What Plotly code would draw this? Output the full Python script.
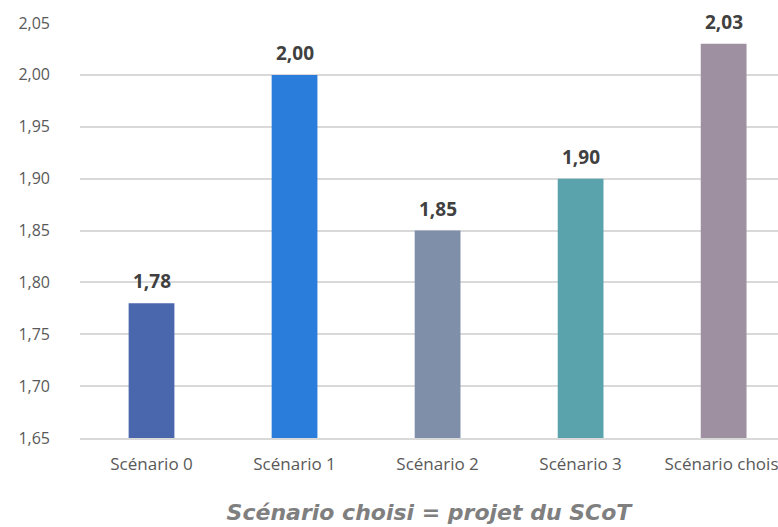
import plotly.graph_objects as go

# Data
categories = ["Scénario 0", "Scénario 1", "Scénario 2", "Scénario 3", "Scénario choisi"]
values = [1.78, 2.00, 1.85, 1.90, 2.03]
bar_colors = ["#4A66AC", "#2A7DDA", "#7F8FA9", "#5AA3AD", "#9E8FA1"]
y_ticks = [1.65, 1.70, 1.75, 1.80, 1.85, 1.90, 1.95, 2.00, 2.05]
x_title = "Scénario choisi = projet du SCoT"


def fr(v):
    return f"{v:.2f}".replace(".", ",")


fig = go.Figure(
    go.Bar(
        x=categories,
        y=[v - y_ticks[0] for v in values],
        base=y_ticks[0],
        marker=dict(color=bar_colors, line=dict(width=0)),
        hoverinfo="skip",
    )
)

# Value labels above each bar
for c, v in zip(categories, values):
    fig.add_annotation(
        x=c, y=v, text=f"<b>{fr(v)}</b>", showarrow=False,
        yanchor="bottom", yshift=7,
        font=dict(family="Open Sans", size=19, color="#404040"),
    )

fig.update_layout(
    width=778, height=527,
    margin=dict(l=80, r=0, t=23, b=89),
    paper_bgcolor="white", plot_bgcolor="white",
    bargap=0.68, showlegend=False,
    font=dict(family="Open Sans", size=16, color="#595959"),
)
fig.update_xaxes(
    range=[-0.5, 4.38], automargin=False,
    showline=True, linecolor="#D9D9D9", linewidth=1.5,
    ticks="", tickfont=dict(family="Open Sans", size=17, color="#595959"),
    ticklabelstandoff=10,
    title=dict(
        text=x_title, standoff=30,
        font=dict(family="DejaVu Sans", size=22, color="#7F7F7F",
                  weight="bold", style="italic"),
    ),
    layer="above traces",
)
fig.update_yaxes(
    range=[y_ticks[0], y_ticks[-1]], automargin=False,
    tickvals=y_ticks, ticktext=[fr(t) for t in y_ticks],
    showgrid=True, gridcolor="#D9D9D9", gridwidth=1.5,
    zeroline=False, ticks="", ticklabelstandoff=29,
    tickfont=dict(family="Open Sans", size=16, color="#595959"),
)

fig.write_html("out.html")
